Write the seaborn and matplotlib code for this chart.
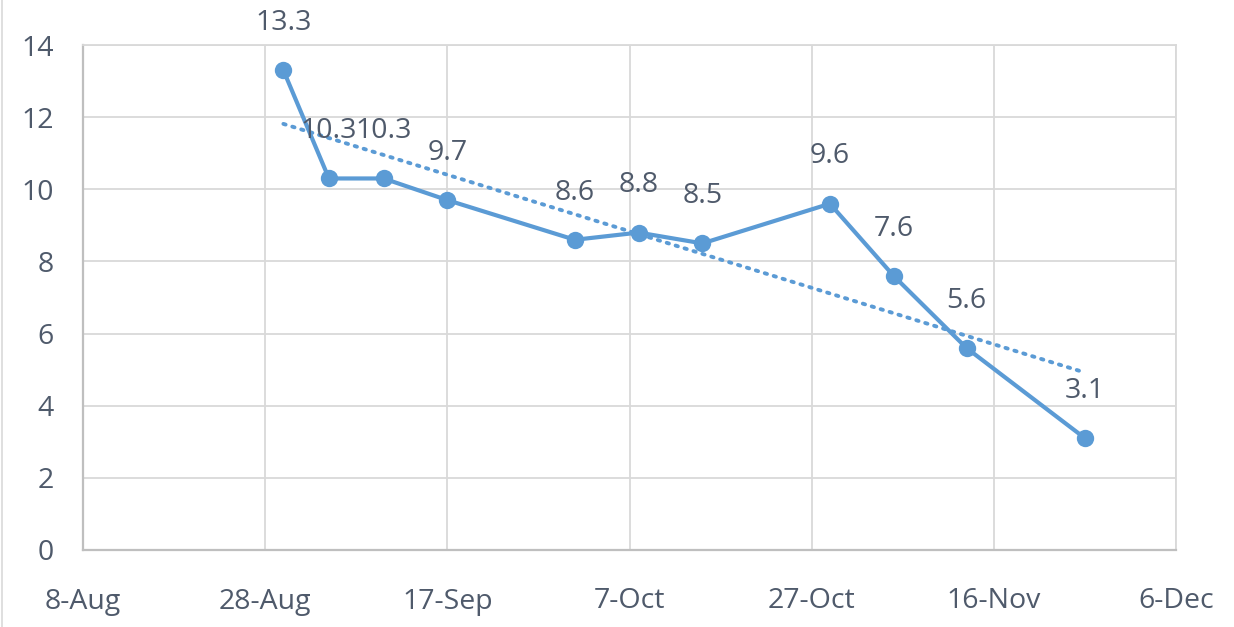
import matplotlib
matplotlib.use("Agg")
import matplotlib.pyplot as plt
import matplotlib.dates as mdates
import seaborn as sns
import numpy as np
import pandas as pd

dates = ["2020-08-30", "2020-09-04", "2020-09-10", "2020-09-17", "2020-10-01",
         "2020-10-08", "2020-10-15", "2020-10-29", "2020-11-05", "2020-11-13",
         "2020-11-26"]
values = [13.3, 10.3, 10.3, 9.7, 8.6, 8.8, 8.5, 9.6, 7.6, 5.6, 3.1]
y_ticks = [0, 2, 4, 6, 8, 10, 12, 14]
x_start, x_end = "2020-08-08", "2020-12-06"

sns.set_theme(style="white")
plt.rcParams['font.family'] = ['Open Sans', 'DejaVu Sans']

text_color = "#4f5a6b"
line_color = "#5b9bd5"

df = pd.DataFrame({"date": pd.to_datetime(dates), "value": values})

fig = plt.figure(figsize=(12.34, 6.27), dpi=100)
ax = fig.add_axes([83/1234, 1 - 550/627, (1176 - 83)/1234, (550 - 45)/627])

sns.lineplot(data=df, x="date", y="value", ax=ax, color=line_color, linewidth=3.0,
             marker="o", markersize=12.5, markeredgewidth=0, zorder=4)

# linear trendline
xn = mdates.date2num(df["date"])
coef = np.polyfit(xn, df["value"], 1)
xt = np.array([xn.min(), xn.max()])
ax.plot(mdates.num2date(xt), np.polyval(coef, xt), color=line_color, linewidth=2.8,
        linestyle=(0, (0.6, 1.8)), dash_capstyle="round", zorder=3)

for d, v in zip(df["date"], df["value"]):
    ax.annotate(f"{v:.1f}", (d, v), xytext=(0, 34), textcoords="offset points",
                ha="center", va="center", fontsize=20.5, color=text_color, zorder=5)

ax.set_xlim(pd.Timestamp(x_start), pd.Timestamp(x_end))
ax.set_ylim(0, 14)
ax.set_yticks(y_ticks)
xticks = pd.date_range(x_start, x_end, freq="20D")
ax.set_xticks(xticks)
ax.set_xticklabels([f"{t.day}-{t.strftime('%b')}" for t in xticks])

ax.grid(True, color="#d9d9d9", linewidth=1.3)
ax.set_axisbelow(True)
for side in ["top", "right"]:
    ax.spines[side].set_color("#d9d9d9")
    ax.spines[side].set_linewidth(1.3)
for side in ["left", "bottom"]:
    ax.spines[side].set_color("#bfbfbf")
    ax.spines[side].set_linewidth(1.6)

ax.tick_params(axis="y", length=0, pad=21, labelsize=20.5, labelcolor=text_color)
ax.tick_params(axis="x", length=0, pad=27, labelsize=20.5, labelcolor=text_color)
ax.set_xlabel("")
ax.set_ylabel("")

fig.add_artist(plt.Line2D([2/1234, 2/1234], [0, 1], color="#d9d9d9", linewidth=1.2,
                          transform=fig.transFigure))

fig.savefig("out.png", dpi=100)
